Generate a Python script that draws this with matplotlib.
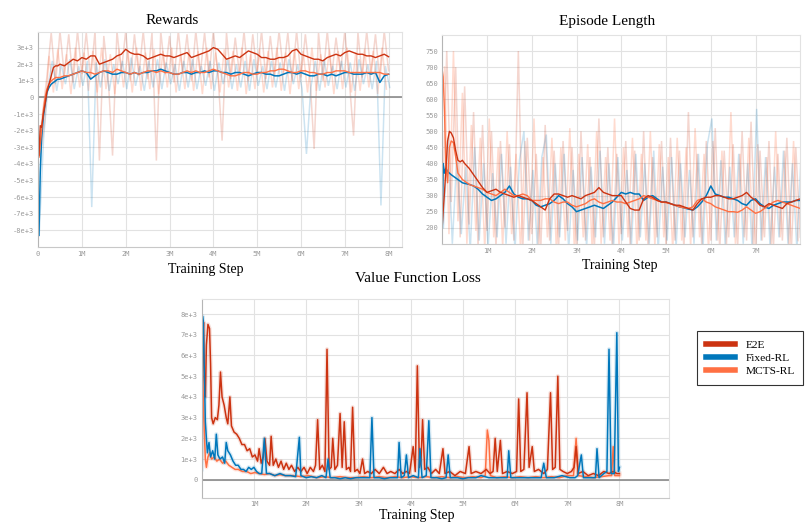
import numpy as np
import matplotlib
matplotlib.use('Agg')
import matplotlib.pyplot as plt
from matplotlib.lines import Line2D

# colours (tensorboard-like)
c_e2e = '#cc3311'
c_fix = '#0077bb'
c_mcts = '#ff7043'
names = ['E2E', 'Fixed-RL', 'MCTS-RL']

# ---------------- Rewards (x in M steps, y in 1e3) ----------------
rew_x_early = [0.02, 0.05, 0.08, 0.12, 0.16, 0.2, 0.25, 0.3, 0.35, 0.4, 0.45]
rew_e2e = [-3.5, -1.7, -1.8, -1.0, -0.4, 0.3, 0.8, 1.3, 1.8, 1.9, 1.9,
           2.0, 1.9, 2.1, 2.3, 2.2, 2.4, 2.3, 2.5, 2.5, 2.0,
           2.1, 2.2, 2.3, 2.5, 2.6, 2.9, 2.7, 2.6, 2.6, 2.5,
           2.3, 2.4, 2.5, 2.6, 2.5, 2.5, 2.4, 2.5, 2.6, 2.7,
           2.4, 2.5, 2.6, 2.7, 2.8, 3.0, 2.9, 2.6, 2.3, 2.4,
           2.5, 2.4, 2.6, 2.8, 2.7, 2.6, 2.4, 2.4, 2.3, 2.3,
           2.4, 2.4, 2.5, 2.8, 2.9, 2.6, 2.5, 2.4, 2.3, 2.3,
           2.2, 2.4, 2.5, 2.6, 2.5, 2.7, 2.8, 2.7, 2.6, 2.6,
           2.5, 2.5, 2.4, 2.5, 2.6, 2.45]
rew_fix = [-8.3, -4.5, -2.5, -1.2, -0.4, 0.3, 0.6, 0.8, 0.9, 1.0, 1.1,
           1.1, 1.2, 1.3, 1.4, 1.5, 1.6, 1.5, 1.1, 1.3, 1.5,
           1.6, 1.5, 1.4, 1.4, 1.5, 1.5, 1.4, 1.5, 1.4, 1.5,
           1.5, 1.6, 1.6, 1.7, 1.6, 1.5, 1.4, 1.4, 1.5, 1.5,
           1.4, 1.5, 1.5, 1.6, 1.5, 1.6, 1.6, 1.5, 1.5, 1.4,
           1.5, 1.5, 1.4, 1.3, 1.4, 1.5, 1.5, 1.4, 1.4, 1.3,
           1.3, 1.4, 1.5, 1.5, 1.4, 1.5, 1.4, 1.3, 1.3, 1.4,
           1.4, 1.3, 1.4, 1.3, 1.4, 1.5, 1.5, 1.4, 1.4, 1.4,
           1.5, 1.4, 1.5, 0.9, 1.3, 1.4]
rew_mcts = [-3.6, -2.8, -2.0, -0.8, 0.0, 0.5, 0.8, 1.0, 1.1, 1.2, 1.2,
            1.2, 1.3, 1.3, 1.4, 1.5, 1.6, 1.5, 1.5, 1.4, 1.5,
            1.6, 1.6, 1.5, 1.7, 1.6, 1.5, 1.4, 1.5, 1.4, 1.5,
            1.6, 1.6, 1.5, 1.6, 1.5, 1.5, 1.4, 1.4, 1.5, 1.6,
            1.5, 1.6, 1.5, 1.5, 1.6, 1.7, 1.6, 1.5, 1.4, 1.3,
            1.3, 1.4, 1.5, 1.5, 1.4, 1.4, 1.5, 1.5, 1.6, 1.6,
            1.7, 1.7, 1.6, 1.5, 1.5, 1.6, 1.6, 1.5, 1.5, 1.4,
            1.4, 1.5, 1.5, 1.6, 1.6, 1.6, 1.5, 1.5, 1.5, 1.5,
            1.5, 1.5, 1.5, 1.5, 1.4, 1.4]

# raw (unsmoothed) rewards, one value every 0.1M
rew_e2e_raw = [-3.6, -1.0, 1.2, 3.9, 0.8, 4.0, 1.3, 3.8, 0.9, 4.0,
               1.4, 3.9, 1.1, 4.0, -3.8, 3.7, 1.2, -3.5, 4.0, 1.5,
               4.0, 1.0, 3.8, 1.3, 4.0, 1.1, 3.9, -3.8, 4.0, 1.4,
               3.7, 0.9, 4.0, 1.5, 3.8, 1.0, 4.0, 1.4, 3.9, 1.2,
               4.0, 1.6, -2.6, 3.9, 1.1, 3.6, 1.3, 4.0, 1.0, 3.8,
               1.4, 4.0, 1.1, 3.7, 1.3, 4.0, 1.5, 3.9, 1.0, 4.0,
               1.2, 3.8, 1.4, -3.1, 3.9, 1.0, 4.0, 1.3, 3.6, 1.5,
               4.0, 1.1, -2.3, 3.9, 1.2, 4.0, 1.4, 3.8, 1.0, 4.0, 1.6]
rew_mcts_raw = [-3.4, -1.5, 2.5, 0.3, 2.9, 0.5, 2.6, 0.2, 3.0, 0.6,
                2.7, 0.4, 2.8, 0.3, 3.0, 0.5, 2.6, 0.2, 2.9, 0.6,
                2.8, 0.3, 3.0, 0.4, 2.7, 0.5, 2.9, 0.2, 2.8, 0.6,
                3.0, 0.3, 2.6, 0.5, 2.9, 0.4, 2.8, 0.2, 3.0, 0.5,
                2.7, 0.3, 2.9, 0.6, 2.8, 0.4, 3.0, 0.2, 2.6, 0.5,
                2.9, 0.3, 2.8, 0.6, 3.0, 0.4, 2.7, 0.2, 2.9, 0.5,
                2.8, 0.3, 3.0, 0.4, 2.6, 0.6, 2.9, 0.2, 2.8, 0.5,
                3.0, 0.3, 2.7, 0.4, 2.9, 0.6, 2.8, 0.2, 3.0, 0.5]
rew_fix_raw = [-8.3, -2.5, 0.6, 2.2, 0.4, 2.0, 0.8, 2.3, 0.5, 1.9,
               0.7, 2.2, -6.6, 2.1, 0.6, 2.3, 0.4, 2.0, 0.8, 2.2,
               0.5, 2.4, 0.7, 1.9, 0.4, 2.2, 0.6, 2.3, 0.5, 2.1,
               0.8, 2.0, 0.4, 2.2, 0.6, 2.3, 0.5, 1.9, 0.7, 2.2,
               0.4, 2.1, 0.8, 2.3, 0.5, 2.0, 0.6, 2.2, 0.4, 2.3,
               0.7, 1.9, 0.5, 2.2, 0.6, 2.1, 0.4, 2.3, 0.8, 2.0,
               0.5, -3.4, 0.6, 2.2, 0.4, 2.3, 0.7, 1.9, 0.5, 2.2,
               0.6, 2.1, 0.4, 2.3, 0.8, 2.0, 0.5, 2.2, -6.5, 1.9, 0.6]

# ---------------- Episode length ----------------
ep_x_early = [0.0, 0.02, 0.05, 0.08, 0.12, 0.16, 0.2, 0.25, 0.3, 0.35, 0.4, 0.45]
ep_e2e = [205, 250, 310, 380, 470, 500, 495, 480, 440, 410, 405, 410,
          400, 385, 365, 345, 325, 310, 315, 320, 310, 305,
          300, 295, 300, 295, 290, 285, 275, 265, 255, 290,
          305, 305, 300, 295, 300, 295, 290, 300, 305, 310,
          325, 310, 305, 300, 300, 300, 280, 260, 255, 255,
          290, 300, 295, 285, 280, 280, 275, 270, 270, 265,
          260, 255, 275, 290, 295, 295, 300, 300, 295, 290,
          290, 295, 300, 310, 295, 285, 270, 265, 275, 270,
          265, 260, 275, 280, 285, 290]
ep_fix = [200, 400, 370, 385, 375, 370, 365, 360, 355, 350, 345, 340,
          338, 335, 330, 320, 305, 295, 285, 290, 300, 310,
          330, 305, 295, 290, 290, 285, 270, 265, 270, 275,
          285, 300, 290, 275, 265, 250, 255, 260, 265, 270,
          265, 260, 270, 280, 295, 310, 305, 310, 305, 305,
          285, 295, 300, 290, 280, 280, 275, 270, 265, 262,
          258, 255, 265, 280, 300, 330, 305, 300, 295, 295,
          290, 285, 275, 270, 285, 290, 275, 265, 260, 270,
          275, 280, 280, 280, 285, 285]
ep_mcts = [690, 670, 560, 400, 340, 450, 470, 465, 420, 370, 360, 350,
           345, 335, 330, 325, 320, 310, 305, 300, 310, 320,
           310, 300, 300, 305, 300, 285, 285, 285, 290, 290,
           280, 275, 280, 280, 270, 265, 270, 275, 285, 290,
           280, 275, 280, 285, 280, 280, 275, 280, 285, 290,
           300, 295, 290, 285, 280, 278, 275, 270, 265, 262,
           260, 265, 285, 290, 280, 275, 265, 260, 255, 250,
           250, 248, 255, 265, 255, 245, 250, 260, 270, 280,
           285, 280, 275, 270, 265, 260]

ep_e2e_raw = [220, 750, 280, 700, 170, 640, 210, 560, 140, 520,
              190, 500, 140, 470, 200, 460, 160, 750, 140, 480,
              180, 430, 130, 520, 160, 440, 140, 470, 190, 450,
              130, 500, 160, 420, 140, 540, 170, 450, 130, 430,
              180, 470, 140, 440, 160, 500, 130, 420, 170, 470,
              140, 480, 160, 440, 130, 560, 170, 430, 140, 470,
              160, 510, 130, 440, 170, 460, 140, 500, 160, 530,
              130, 440, 170, 470, 140, 430, 160, 480, 130, 450, 170]
ep_mcts_raw = [700, 180, 750, 220, 620, 150, 520, 190, 480, 130,
               540, 170, 450, 140, 500, 180, 430, 130, 470, 160,
               540, 140, 420, 170, 480, 130, 450, 160, 510, 140,
               430, 170, 460, 130, 500, 150, 420, 160, 540, 140,
               450, 170, 480, 130, 430, 160, 500, 140, 460, 170,
               420, 130, 480, 160, 450, 140, 510, 170, 430, 130,
               470, 160, 440, 140, 560, 150, 430, 170, 480, 130,
               460, 160, 420, 140, 500, 170, 440, 130, 470, 160]
ep_fix_raw = [200, 480, 150, 420, 180, 390, 130, 450, 160, 400,
              140, 370, 170, 430, 150, 390, 130, 410, 500, 160,
              380, 140, 420, 490, 150, 400, 170, 430, 130, 380,
              160, 420, 140, 390, 170, 440, 150, 400, 130, 420,
              160, 380, 140, 430, 170, 400, 150, 440, 130, 390,
              160, 420, 140, 400, 170, 380, 150, 430, 130, 460,
              540, 160, 410, 140, 390, 170, 430, 150, 400, 130,
              570, 160, 420, 140, 390, 170, 440, 150, 400, 130, 450]

# ---------------- Value function loss (x in M, y in 1e3) ----------------
vl_e2e_x = [0.00, 0.02, 0.035, 0.05, 0.07, 0.09, 0.12, 0.15, 0.17, 0.19,
            0.22, 0.26, 0.30, 0.33, 0.36, 0.39, 0.43, 0.47, 0.50, 0.54,
            0.57, 0.62, 0.67, 0.72, 0.77, 0.82, 0.87, 0.92, 0.97, 1.02,
            1.07, 1.10, 1.14, 1.18, 1.21, 1.25, 1.30, 1.33, 1.37, 1.42,
            1.47, 1.52, 1.57, 1.62, 1.67, 1.72, 1.78, 1.84, 1.90, 1.96,
            2.02, 2.08, 2.14, 2.18, 2.22, 2.26, 2.31, 2.36, 2.40, 2.44,
            2.48, 2.51, 2.55, 2.60, 2.65, 2.69, 2.73, 2.77, 2.82, 2.85,
            2.89, 2.93, 2.98, 3.03, 3.08, 3.12, 3.18, 3.25, 3.32, 3.40,
            3.48, 3.55, 3.62, 3.70, 3.78, 3.85, 3.92, 3.98, 4.05, 4.09,
            4.13, 4.17, 4.20, 4.23, 4.27, 4.33, 4.40, 4.48, 4.55, 4.62,
            4.66, 4.75, 4.85, 4.95, 5.05, 5.12, 5.16, 5.25, 5.35, 5.45,
            5.52, 5.58, 5.62, 5.66, 5.72, 5.76, 5.85, 5.95, 6.03, 6.07,
            6.11, 6.17, 6.23, 6.27, 6.33, 6.37, 6.45, 6.55, 6.62, 6.68,
            6.72, 6.77, 6.82, 6.86, 6.92, 7.00, 7.08, 7.13, 7.17, 7.21,
            7.30, 7.40, 7.50, 7.60, 7.70, 7.80, 7.88, 7.95, 8.00]
vl_e2e = [3.0, 6.8, 7.6, 5.0, 4.0, 6.5, 7.5, 7.3, 5.6, 3.0,
          2.7, 3.0, 2.9, 3.6, 5.2, 4.0, 3.6, 3.0, 2.7, 4.0,
          2.6, 2.3, 2.2, 2.0, 1.7, 1.7, 1.4, 1.5, 1.1, 1.2,
          0.9, 1.5, 0.8, 1.1, 2.0, 0.9, 0.7, 2.1, 0.7, 1.0,
          0.6, 0.9, 0.5, 0.8, 0.5, 0.7, 0.4, 0.6, 0.4, 0.6,
          0.3, 0.6, 0.4, 0.7, 2.9, 0.5, 0.7, 0.4, 6.3, 0.5,
          0.6, 2.0, 0.5, 0.7, 3.2, 0.6, 2.8, 0.5, 0.6, 0.4,
          3.5, 0.4, 0.5, 0.3, 1.0, 0.3, 0.4, 0.3, 0.5, 0.3,
          0.6, 0.3, 0.4, 0.3, 0.5, 0.3, 0.4, 0.3, 1.6, 0.4,
          5.5, 0.6, 0.9, 2.9, 0.5, 0.6, 0.3, 0.5, 0.3, 1.5,
          0.3, 0.4, 0.2, 0.4, 0.3, 1.6, 0.3, 0.4, 0.3, 0.5,
          0.3, 0.4, 2.0, 0.4, 1.9, 0.3, 0.4, 0.3, 0.4, 3.9,
          0.4, 0.5, 4.2, 0.6, 1.6, 0.4, 0.5, 0.3, 0.5, 4.2,
          0.5, 0.6, 5.0, 0.5, 0.4, 0.3, 0.4, 0.6, 1.6, 0.3,
          0.4, 0.2, 0.3, 0.2, 0.4, 0.3, 0.4, 0.3, 0.3]

vl_fix_x = [0.00, 0.015, 0.03, 0.05, 0.07, 0.09, 0.11, 0.14, 0.17, 0.21,
            0.25, 0.28, 0.31, 0.35, 0.40, 0.44, 0.47, 0.50, 0.55, 0.60,
            0.65, 0.70, 0.75, 0.80, 0.85, 0.90, 0.95, 1.00, 1.05, 1.10,
            1.15, 1.20, 1.24, 1.30, 1.40, 1.50, 1.60, 1.70, 1.80, 1.87,
            1.90, 2.00, 2.10, 2.20, 2.30, 2.38, 2.42, 2.46, 2.55, 2.65,
            2.75, 2.85, 2.95, 3.05, 3.15, 3.22, 3.26, 3.30, 3.40, 3.50,
            3.60, 3.70, 3.75, 3.78, 3.82, 3.88, 3.92, 3.96, 4.05, 4.15,
            4.18, 4.22, 4.30, 4.35, 4.39, 4.50, 4.60, 4.68, 4.72, 4.76,
            4.90, 5.00, 5.10, 5.25, 5.35, 5.50, 5.65, 5.80, 5.85, 5.88,
            5.92, 6.05, 6.20, 6.35, 6.50, 6.55, 6.60, 6.75, 6.90, 7.05,
            7.15, 7.20, 7.27, 7.31, 7.45, 7.54, 7.57, 7.61, 7.70, 7.76,
            7.80, 7.84, 7.90, 7.95, 7.98, 8.00]
vl_fix = [0.5, 7.9, 7.6, 5.3, 2.8, 2.0, 1.3, 1.8, 1.1, 1.4,
          1.0, 2.2, 1.2, 1.0, 1.1, 0.8, 1.8, 1.4, 1.2, 0.9,
          0.7, 0.7, 0.5, 0.5, 0.4, 0.6, 0.5, 0.6, 0.4, 0.3,
          0.3, 2.0, 0.3, 0.3, 0.2, 0.3, 0.2, 0.2, 0.15, 2.05,
          0.2, 0.1, 0.15, 0.1, 0.2, 0.1, 1.0, 0.1, 0.1, 0.05,
          0.1, 0.05, 0.1, 0.1, 0.1, 0.1, 3.0, 0.1, 0.1, 0.05,
          0.1, 0.1, 0.1, 1.8, 0.1, 0.2, 1.2, 0.1, 0.2, 0.1,
          1.5, 0.1, 0.2, 2.85, 0.1, 0.1, 0.05, 0.1, 1.2, 0.1,
          0.1, 0.05, 0.1, 0.1, 0.2, 0.1, 0.1, 0.1, 0.1, 1.4,
          0.1, 0.1, 0.1, 0.1, 0.1, 0.8, 0.1, 0.1, 0.2, 0.1,
          0.1, 0.2, 1.2, 0.1, 0.1, 0.1, 1.5, 0.1, 0.3, 0.4,
          6.3, 0.3, 0.3, 7.1, 0.4, 0.6]

vl_mcts_x = [0.00, 0.02, 0.04, 0.07, 0.09, 0.12, 0.15, 0.19, 0.24, 0.29,
             0.34, 0.40, 0.46, 0.52, 0.58, 0.64, 0.70, 0.78, 0.86, 0.94,
             1.02, 1.10, 1.20, 1.30, 1.40, 1.50, 1.60, 1.75, 1.90, 2.05,
             2.20, 2.35, 2.50, 2.65, 2.80, 2.95, 3.10, 3.25, 3.40, 3.55,
             3.70, 3.85, 4.00, 4.15, 4.30, 4.45, 4.60, 4.75, 4.90, 5.05,
             5.20, 5.35, 5.43, 5.47, 5.50, 5.53, 5.65, 5.80, 5.95, 6.10,
             6.25, 6.40, 6.55, 6.70, 6.85, 7.00, 7.12, 7.17, 7.21, 7.35,
             7.50, 7.65, 7.80, 7.85, 7.88, 7.91, 8.00]
vl_mcts = [2.0, 5.0, 3.0, 1.0, 0.6, 1.1, 1.3, 1.0, 1.1, 0.9,
           1.0, 0.8, 0.9, 0.7, 0.6, 0.5, 0.5, 0.4, 0.4, 0.3,
           0.35, 0.3, 0.25, 0.3, 0.2, 0.25, 0.2, 0.2, 0.15, 0.2,
           0.1, 0.15, 0.1, 0.15, 0.1, 0.1, 0.15, 0.1, 0.15, 0.1,
           0.15, 0.1, 0.15, 0.1, 0.15, 0.1, 0.15, 0.1, 0.15, 0.1,
           0.15, 0.1, 0.2, 2.4, 1.9, 0.2, 0.1, 0.15, 0.1, 0.15,
           0.1, 0.15, 0.1, 0.15, 0.1, 0.2, 0.2, 2.0, 0.2, 0.15,
           0.1, 0.15, 0.2, 0.2, 1.6, 0.2, 0.2]


def grid_x(early, n):
    # smoothed curves: a few early samples, then one every 0.1M from 0.5M
    return np.concatenate([early, 0.5 + 0.1 * np.arange(n - len(early))])


def raw_x(vals, offset=0.0):
    return offset + 0.1 * np.arange(len(vals))


def style(ax):
    ax.grid(True, color='#e2e2e2', lw=0.8)
    ax.set_axisbelow(True)
    for s in ax.spines.values():
        s.set_color('#e2e2e2')
        s.set_linewidth(0.8)
    ax.spines['left'].set_color('#b5b5b5')
    ax.spines['bottom'].set_color('#c8c8c8')
    ax.tick_params(length=0, labelsize=5, labelcolor='#9a9a9a', pad=3)
    for lab in ax.get_xticklabels() + ax.get_yticklabels():
        lab.set_family('DejaVu Sans Mono')


def e3(v):
    return '0' if v == 0 else '%de+3' % v


fig = plt.figure(figsize=(8.1, 5.3), dpi=100)
serif = 'Liberation Serif'
raw_kw = dict(lw=1.1, solid_joinstyle='miter')

# ---- Rewards ----
ax1 = fig.add_axes([0.047, 0.534, 0.449, 0.406])
ax1.plot(raw_x(rew_e2e_raw), rew_e2e_raw, color=c_e2e, alpha=0.2, **raw_kw)
ax1.plot(raw_x(rew_mcts_raw, 0.05), rew_mcts_raw, color=c_mcts, alpha=0.25, **raw_kw)
ax1.plot(raw_x(rew_fix_raw, 0.025), rew_fix_raw, color=c_fix, alpha=0.2, **raw_kw)
ax1.axhline(0, color='#8a8a8a', lw=1.2, zorder=2)
ax1.plot(grid_x(rew_x_early, len(rew_fix)), rew_fix, color=c_fix, lw=1.1)
ax1.plot(grid_x(rew_x_early, len(rew_mcts)), rew_mcts, color=c_mcts, lw=1.0)
ax1.plot(grid_x(rew_x_early, len(rew_e2e)), rew_e2e, color=c_e2e, lw=1.0)
ax1.set_xlim(0, 8.3)
ax1.set_ylim(-9.0, 3.95)
ax1.set_xticks(range(0, 9))
ax1.set_xticklabels(['0'] + ['%dM' % k for k in range(1, 9)])
yt = list(range(-8, 4))
ax1.set_yticks(yt)
ax1.set_yticklabels([e3(v) for v in yt])
style(ax1)

# ---- Episode Length ----
ax2 = fig.add_axes([0.546, 0.540, 0.442, 0.394])
ax2.plot(raw_x(ep_e2e_raw), ep_e2e_raw, color=c_e2e, alpha=0.2, **raw_kw)
ax2.plot(raw_x(ep_mcts_raw, 0.05), ep_mcts_raw, color=c_mcts, alpha=0.25, **raw_kw)
ax2.plot(raw_x(ep_fix_raw, 0.025), ep_fix_raw, color=c_fix, alpha=0.2, **raw_kw)
ax2.plot(grid_x(ep_x_early, len(ep_fix)), ep_fix, color=c_fix, lw=1.1)
ax2.plot(grid_x(ep_x_early, len(ep_mcts)), ep_mcts, color=c_mcts, lw=1.0)
ax2.plot(grid_x(ep_x_early, len(ep_e2e)), ep_e2e, color=c_e2e, lw=1.0)
ax2.set_xlim(0, 8.0)
ax2.set_ylim(150, 800)
ax2.set_xticks(range(1, 8))
ax2.set_xticklabels(['%dM' % k for k in range(1, 8)])
ax2.set_yticks(range(200, 800, 50))
style(ax2)

# ---- Value Function Loss ----
ax3 = fig.add_axes([0.249, 0.060, 0.577, 0.376])
for xs, ys, c in [(vl_mcts_x, vl_mcts, c_mcts), (vl_e2e_x, vl_e2e, c_e2e),
                  (vl_fix_x, vl_fix, c_fix)]:
    ax3.plot(xs, ys, color=c, alpha=0.15, lw=3.0)
ax3.axhline(0, color='#8a8a8a', lw=1.2, zorder=2)
ax3.plot(vl_mcts_x, vl_mcts, color=c_mcts, lw=1.1)
ax3.plot(vl_e2e_x, vl_e2e, color=c_e2e, lw=1.1)
ax3.plot(vl_fix_x, vl_fix, color=c_fix, lw=1.1)
ax3.set_xlim(0, 8.95)
ax3.set_ylim(-0.89, 8.73)
ax3.set_xticks(range(1, 9))
ax3.set_xticklabels(['%dM' % k for k in range(1, 9)])
ax3.set_yticks(range(0, 9))
ax3.set_yticklabels([e3(v) for v in range(0, 9)])
style(ax3)
ax3.tick_params(axis='x', pad=2)

# titles and axis names
W, H = 810.0, 530.0
fig.text(172 / W, 1 - 21 / H, 'Rewards', family=serif, fontsize=11, ha='center', va='center')
fig.text(607 / W, 1 - 21 / H, 'Episode Length', family=serif, fontsize=11, ha='center', va='center')
fig.text(418 / W, 1 - 279 / H, 'Value Function Loss', family=serif, fontsize=11, ha='center', va='center')
fig.text(206 / W, 1 - 269 / H, 'Training Step', family=serif, fontsize=10, ha='center', va='center')
fig.text(620 / W, 1 - 265 / H, 'Training Step', family=serif, fontsize=10, ha='center', va='center')
fig.text(417 / W, 1 - 516 / H, 'Training Step', family=serif, fontsize=10, ha='center', va='center')

handles = [Line2D([], [], color=c, lw=4) for c in (c_e2e, c_fix, c_mcts)]
leg = fig.legend(handles, names, loc='upper left', bbox_to_anchor=(697 / W, 1 - 331 / H),
                 frameon=True, fancybox=False, prop={'family': serif, 'size': 8.2},
                 handlelength=2.6, borderpad=0.75, labelspacing=0.3, handletextpad=0.9,
                 borderaxespad=0)
leg.get_frame().set_edgecolor('black')
leg.get_frame().set_linewidth(0.8)

fig.savefig('out.png', dpi=100)
